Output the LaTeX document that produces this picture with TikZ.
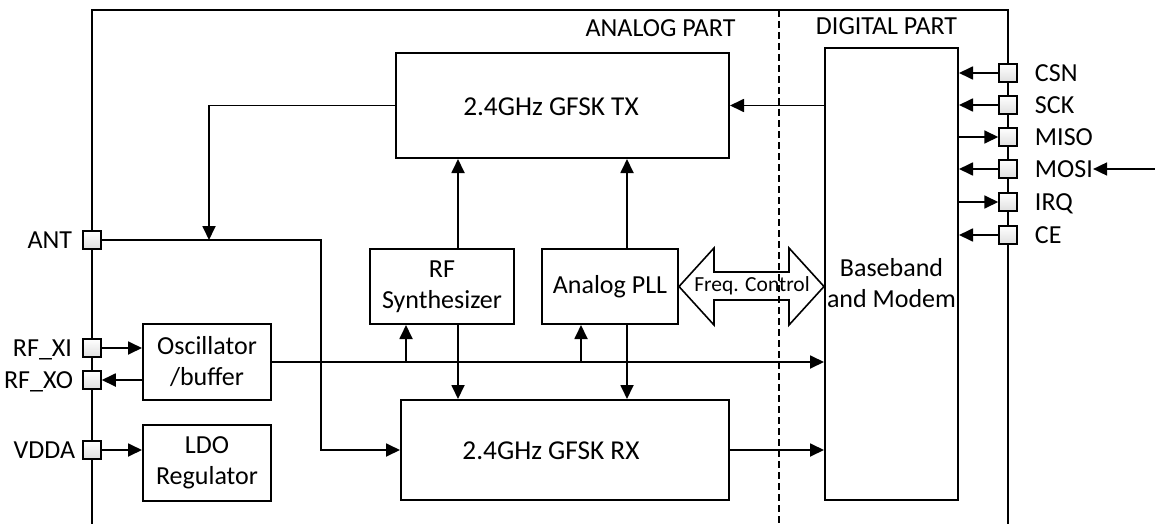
\documentclass[tikz,border=0pt]{standalone}
\usepackage{fontspec}
\setmainfont{Carlito}
\usetikzlibrary{arrows.meta}
\begin{document}
\begin{tikzpicture}[x=1pt,y=-1pt,
  every node/.style={font=\fontsize{26}{31}\selectfont},
  blk/.style={draw, line width=2pt, align=center, inner sep=0pt},
  pinbox/.style={draw, line width=1.5pt, minimum size=18pt, inner sep=0pt, top color=white, bottom color=gray!25},
  lbl/.style={inner sep=0pt, text height=16.5pt, text depth=0pt},
  bigt/.style={inner sep=0pt, font=\fontsize{27.3}{31}\selectfont},
  wire/.style={line width=1.8pt},
  arr/.style={wire, -{Triangle[length=14pt,width=13pt]}}]
\useasboundingbox (0,0) rectangle (1155,524);
% chip outline and divider
\draw[line width=2pt] (92,524) -- (92,10) -- (1008,10) -- (1008,524);
\draw[line width=1.6pt, dash pattern=on 7pt off 4pt] (779,10) -- (779,524);
\node[inner sep=0pt] (analog) at (660.5,28) {ANALOG PART};
\node[inner sep=0pt] (digital) at (886.5,26) {DIGITAL PART};
% blocks
\node[blk, minimum width=333pt, minimum height=105pt] (tx) at (562.5,105.5) {};
\node[bigt] (txt) at (551,107) {2.4GHz GFSK TX};
\node[blk, minimum width=328pt, minimum height=100pt] (rx) at (565,450) {};
\node[bigt] (rxt) at (551,451) {2.4GHz GFSK RX};
\node[blk, minimum width=144pt, minimum height=75pt] (syn) at (442,286.5) {RF\\Synthesizer};
\node[blk, minimum width=136pt, minimum height=75pt] (pll) at (610,286.5) {Analog PLL};
\node[blk, minimum width=128pt, minimum height=76pt] (osc) at (207,362) {Oscillator\\/buffer};
\node[blk, minimum width=128pt, minimum height=76pt] (ldo) at (207,463) {LDO\\Regulator};
\node[blk, minimum width=133pt, minimum height=452pt] (bb) at (891.5,274) {};
\node[align=center, inner sep=0pt] (bbt) at (891.5,283) {Baseband\\and Modem};
% left pins
\node[pinbox] (ant) at (92,240) {};
\node[pinbox] (xi) at (92,348) {};
\node[pinbox] (xo) at (92,380) {};
\node[pinbox] (vdda) at (92,450) {};
\node[lbl, anchor=east] (antl) at ([xshift=-10pt]ant.west) {ANT};
\node[lbl, anchor=east] (xil) at ([xshift=-10pt]xi.west) {RF\_XI};
\node[lbl, anchor=east] (xol) at ([xshift=-9pt]xo.west) {RF\_XO};
\node[lbl, anchor=east] (vddal) at ([xshift=-7pt]vdda.west) {VDDA};
% right pins
\foreach \n/\t/\yy in {csn/CSN/73, sck/SCK/105, miso/MISO/137, mosi/MOSI/169, irq/IRQ/202, ce/CE/235}{
  \node[pinbox] (\n) at (1008,\yy) {};
  \node[lbl, anchor=west] (\n l) at ([xshift=17pt]\n.east) {\t};
}
\coordinate (ext) at (1155,169);
\draw[arr] (ext) -- (mosil.east);
\draw[arr] (csn.west) -- (csn.west -| bb.east);
\draw[arr] (sck.west) -- (sck.west -| bb.east);
\draw[arr] (miso.west -| bb.east) -- (miso.west);
\draw[arr] (mosi.west) -- (mosi.west -| bb.east);
\draw[arr] (irq.west -| bb.east) -- (irq.west);
\draw[arr] (ce.west) -- (ce.west -| bb.east);
% left pin connections
\draw[arr] (xi.east) -- (xi.east -| osc.west);
\draw[arr] (osc.west |- xo.east) -- (xo.east);
\draw[arr] (vdda.east) -- (vdda.east -| ldo.west);
% TX / RX paths
\coordinate (jt) at (209,240);
\coordinate (ja) at (321,240);
\draw[arr] (tx.west) -| (jt);
\draw[arr] (ant.east) -- (ja) |- (rx.west);
\draw[arr] (bb.west |- tx.east) -- (tx.east);
\draw[arr] (rx.east) -- (rx.east -| bb.west);
% oscillator distribution
\draw[arr] (osc.east) -- (osc.east -| bb.west);
\draw[arr] ([xshift=-36pt]syn.south |- osc.east) -- ([xshift=-36pt]syn.south);
\draw[arr] ([xshift=-29pt]pll.south |- osc.east) -- ([xshift=-29pt]pll.south);
% synth / pll to tx and rx
\draw[arr] ([xshift=16pt]syn.north) -- ([xshift=16pt]syn.north |- tx.south);
\draw[arr] ([xshift=17pt]pll.north) -- ([xshift=17pt]pll.north |- tx.south);
\draw[arr] ([xshift=16pt]syn.south) -- ([xshift=16pt]syn.south |- rx.north);
\draw[arr] ([xshift=17pt]pll.south) -- ([xshift=17pt]pll.south |- rx.north);
% frequency control double arrow
\draw[line width=1.6pt, line join=miter] (pll.east) -- (714,248) -- (714,272) -- (789,272) -- (789,248) -- (bb.west |- pll.east) -- (789,325) -- (789,300) -- (714,300) -- (714,325) -- cycle;
\node[inner sep=0pt, font=\fontsize{21.5}{25}\selectfont] (fc) at (752,286) {Freq. Control};
\end{tikzpicture}
\end{document}
